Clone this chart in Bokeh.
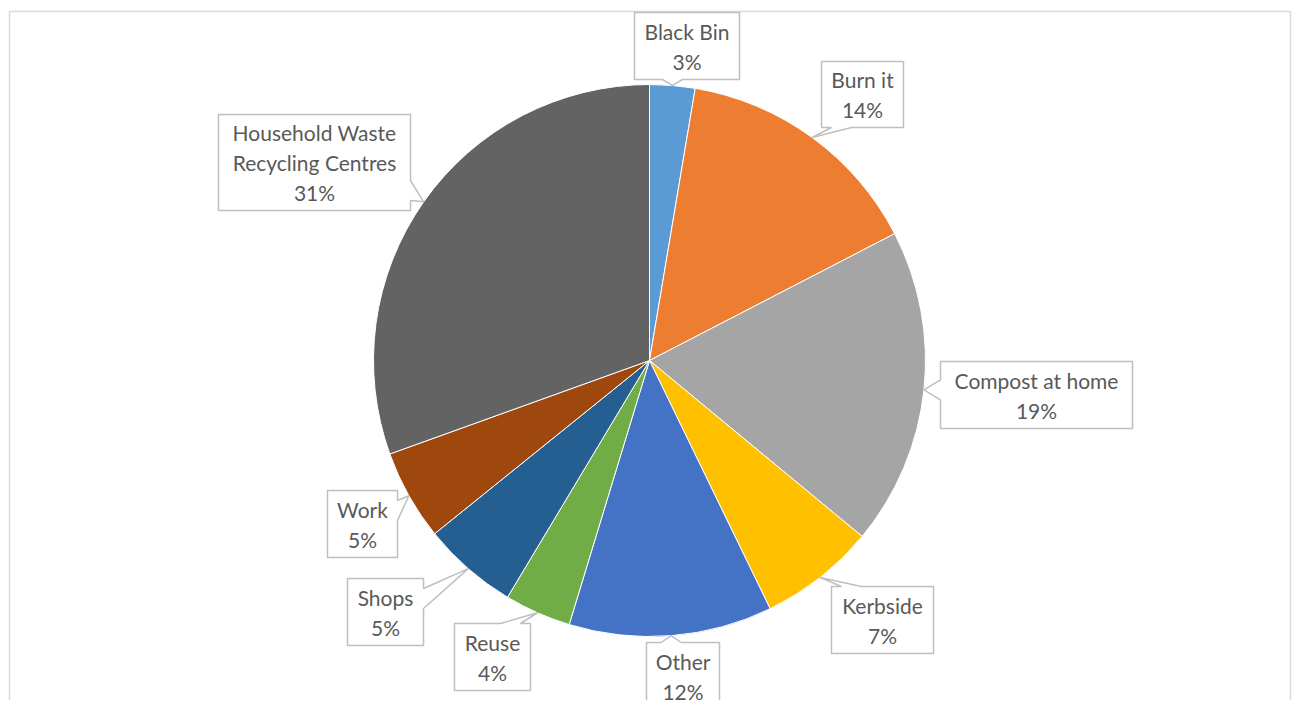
import numpy as np
from bokeh.plotting import figure
from bokeh.models import Range1d, ColumnDataSource
from bokeh.core.properties import value
from bokeh.embed import file_html
from bokeh.resources import INLINE

# ---------------- data ----------------
categories = ["Black Bin", "Burn it", "Compost at home", "Kerbside", "Other",
              "Reuse", "Shops", "Work", "Household Waste\nRecycling Centres"]
shares = [2.65, 14.75, 18.6, 6.8, 11.9, 3.9, 5.6, 5.3, 30.5]
pct_labels = ["3%", "14%", "19%", "7%", "12%", "4%", "5%", "5%", "31%"]
colors = ["#5B9BD5", "#ED7D31", "#A5A5A5", "#FFC000", "#4472C4",
          "#70AD47", "#255E91", "#9E480E", "#636363"]

# ---------------- layout (page pixels) ----------------
W, H = 1294, 700
CX, CY, R = 649, 360, 276
# label box centre x, centre y, width, height, side of pointer
label_boxes = [
    (686.5, 45.5, 105, 67, "bottom"),
    (862, 94, 82, 66, "bottom"),
    (1036, 394.5, 192, 67, "left"),
    (882, 619.5, 102, 67, "top"),
    (682.5, 675.5, 73, 67, "top"),
    (492, 656.5, 76, 67, "top"),
    (385, 611.5, 76, 67, "right"),
    (362, 523.5, 70, 67, "right"),
    (314, 162, 192, 96, "right"),
]


def px(X):
    return X


def py(Y):
    return H - Y


p = figure(width=W, height=H, x_range=Range1d(0, W), y_range=Range1d(0, H),
           output_backend="svg", toolbar_location=None, min_border=0,
           x_axis_location=None, y_axis_location=None)
p.grid.visible = False
p.outline_line_color = None
p.background_fill_color = "white"
p.border_fill_color = "white"

# chart border (three visible sides)
p.multi_line(xs=[[px(9), px(9), px(1290), px(1290)]],
             ys=[[py(720), py(11), py(11), py(720)]],
             line_color="#D9D9D9", line_width=1.5)

# pie
vals = np.array(shares, dtype=float)
frac = vals / vals.sum()
cum_end = np.cumsum(frac)
cum_start = cum_end - frac
start_angle = np.pi / 2 - 2 * np.pi * cum_start
end_angle = np.pi / 2 - 2 * np.pi * cum_end
src = ColumnDataSource(dict(start=start_angle, end=end_angle, color=colors,
                            cat=categories))
p.wedge(x=px(CX), y=py(CY), radius=R, start_angle="start", end_angle="end",
        direction="clock", fill_color="color", line_color="white",
        line_width=1, source=src)

# callouts
mid = 2 * np.pi * (cum_start + cum_end) / 2
box_xs, box_ys = [], []
tx, ty, tt = [], [], []
NOTCH = 10
for i, (bx, by, bw, bh, side) in enumerate(label_boxes):
    tipX = CX + R * np.sin(mid[i])
    tipY = CY - R * np.cos(mid[i])
    x0, x1 = bx - bw / 2, bx + bw / 2
    y0, y1 = by - bh / 2, by + bh / 2
    if side in ("top", "bottom"):
        c = min(max(tipX, x0 + 20), x1 - 20)
    else:
        c = min(max(tipY, y0 + 20), y1 - 20)
    if side == "bottom":
        pts = [(x0, y0), (x1, y0), (x1, y1), (c + NOTCH, y1), (tipX, tipY),
               (c - NOTCH, y1), (x0, y1)]
    elif side == "top":
        pts = [(x0, y0), (c - NOTCH, y0), (tipX, tipY), (c + NOTCH, y0),
               (x1, y0), (x1, y1), (x0, y1)]
    elif side == "right":
        pts = [(x0, y0), (x1, y0), (x1, c - NOTCH), (tipX, tipY),
               (x1, c + NOTCH), (x1, y1), (x0, y1)]
    else:
        pts = [(x0, y0), (x1, y0), (x1, y1), (x0, y1), (x0, c + NOTCH),
               (tipX, tipY), (x0, c - NOTCH)]
    box_xs.append([px(a) for a, b in pts])
    box_ys.append([py(b) for a, b in pts])
    lines = categories[i].split("\n") + [pct_labels[i]]
    n = len(lines)
    for k, line in enumerate(lines):
        tx.append(px(bx))
        ty.append(py(by + (k - (n - 1) / 2) * 30))
        tt.append(line)

p.patches(xs=box_xs, ys=box_ys, fill_color="white", line_color="#BFBFBF",
          line_width=1.5)
p.text(x=tx, y=ty, text=tt, text_font=value("Lato"), text_font_size="21px",
       text_color="#595959", text_align="center", text_baseline="middle")

open("out.html", "w").write(file_html(p, INLINE))
